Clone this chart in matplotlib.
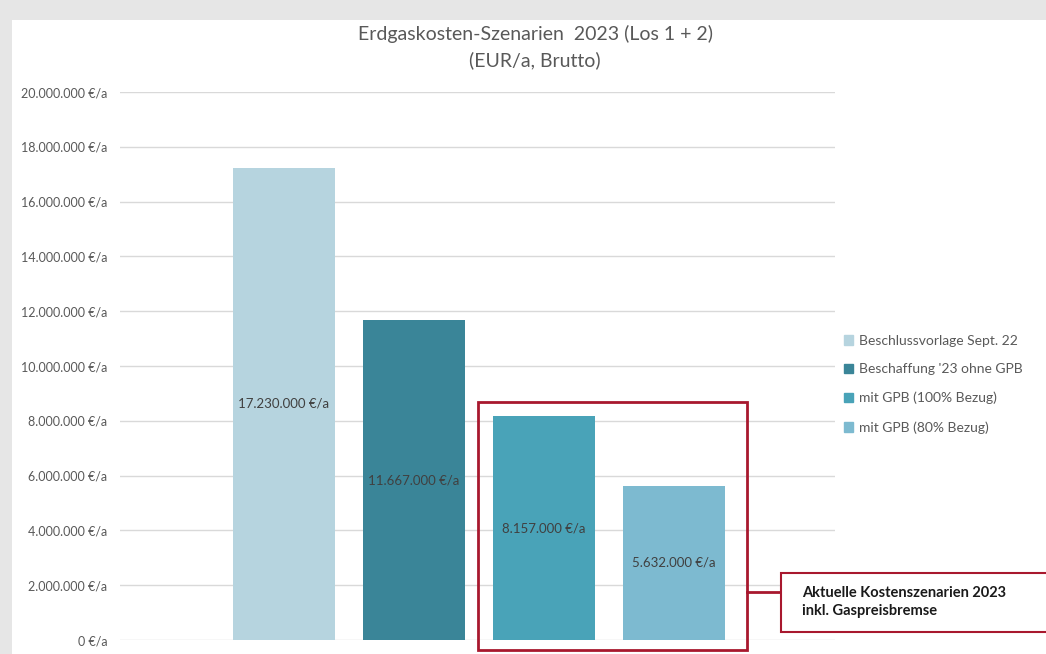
import matplotlib.pyplot as plt
import matplotlib.patches as mpatches
from matplotlib.ticker import FuncFormatter

# ── Data ──────────────────────────────────────────────────────────────────────
series = ["Beschlussvorlage Sept. 22", "Beschaffung '23 ohne GPB",
          "mit GPB (100% Bezug)", "mit GPB (80% Bezug)"]
values = [17_230_000, 11_667_000, 8_157_000, 5_632_000]
colors = ["#b6d4df", "#3a8598", "#49a3b8", "#7dbad0"]

title = "Erdgaskosten-Szenarien  2023 (Los 1 + 2)\n(EUR/a, Brutto)"
callout = "Aktuelle Kostenszenarien 2023\ninkl. Gaspreisbremse"

FONT = ["Lato", "DejaVu Sans"]
plt.rcParams["font.family"] = FONT

W, H = 1046, 654
fig = plt.figure(figsize=(W / 100, H / 100), dpi=100, facecolor="#e6e6e6")


def fx(px):
    return px / W


def fy(py):
    return 1 - py / H


# white chart panel (behind the axes)
fig.patches.append(mpatches.Rectangle((fx(12), 0), 1, fy(20), transform=fig.transFigure,
                                      facecolor="white", edgecolor="none", zorder=-5))

ax = fig.add_axes([fx(120), fy(640), fx(835) - fx(120), fy(92) - fy(640)])
ax.set_facecolor("none")
ax.set_zorder(1)

def fmt(v):
    return f"{int(v):,}".replace(",", ".") + " €/a"

xpos = list(range(len(values)))
bars = ax.bar(xpos, values, width=0.785, color=colors, zorder=2)
for x, v in zip(xpos, values):
    ax.text(x, v / 2, fmt(v), ha="center", va="center", fontsize=9.5,
            color="#404040", zorder=3)

ax.set_xlim(-1.26, 4.24)
ax.set_ylim(0, 20_000_000)
ax.set_yticks(range(0, 20_000_001, 2_000_000))
ax.yaxis.set_major_formatter(FuncFormatter(lambda v, _: fmt(v)))
ax.tick_params(axis="y", length=0, labelsize=9, labelcolor="#595959", pad=9)
ax.set_xticks([])
ax.grid(axis="y", color="#d9d9d9", linewidth=1, zorder=0)
ax.set_axisbelow(True)
for s in ax.spines.values():
    s.set_visible(False)

fig.text(fx(535), fy(47), title, ha="center", va="center", fontsize=14,
         color="#595959", linespacing=1.6)

# legend
handles = [mpatches.Patch(color=c, label=l) for c, l in zip(colors, series)]
fig.legend(handles=handles, loc="upper left", bbox_to_anchor=(fx(838), fy(329)),
           frameon=False, fontsize=10, labelcolor="#595959",
           handlelength=0.7, handleheight=0.7, handletextpad=0.4,
           labelspacing=1.2, borderaxespad=0)

# red highlight box + callout
RED = "#a8182e"
fig.patches.append(mpatches.Rectangle((fx(478), fy(650)), fx(747) - fx(478), fy(402) - fy(650),
                                      transform=fig.transFigure, facecolor="none",
                                      edgecolor=RED, linewidth=2, zorder=5))
fig.lines.append(plt.Line2D([fx(747), fx(781)], [fy(592), fy(592)],
                            transform=fig.transFigure, color=RED, linewidth=2, zorder=5))
fig.patches.append(mpatches.Rectangle((fx(781), fy(632)), fx(1060) - fx(781), fy(573) - fy(632),
                                      transform=fig.transFigure, facecolor="white",
                                      edgecolor=RED, linewidth=1.5, zorder=5))
fig.text(fx(802), fy(602), callout, ha="left", va="center", fontsize=10.5,
         fontweight="bold", color="#1a1a1a", linespacing=1.35, zorder=6)

fig.savefig("out.png", dpi=100, facecolor=fig.get_facecolor())
